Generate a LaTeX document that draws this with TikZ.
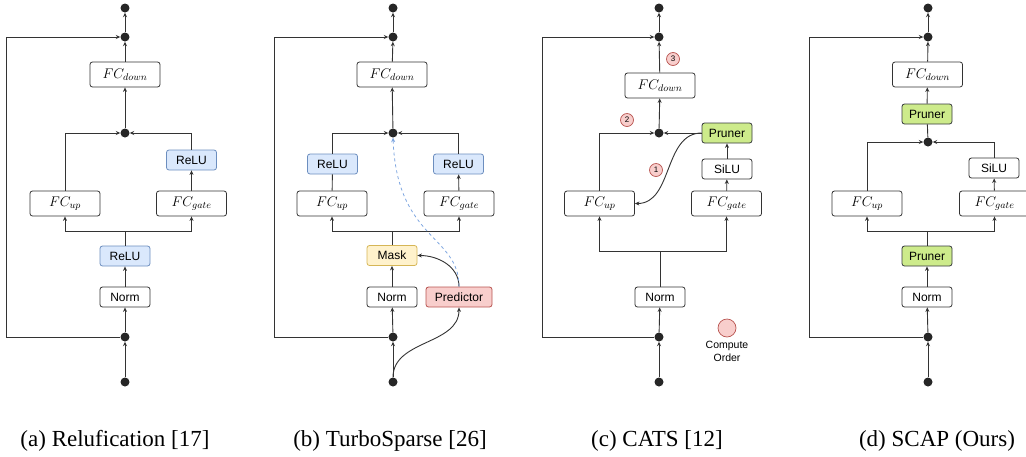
\documentclass[tikz,border=0pt]{standalone}
\usepackage{fix-cm}
\usepackage{fontspec}
\setmainfont{Liberation Serif}
\setsansfont{Liberation Sans}
\usetikzlibrary{arrows.meta}

\definecolor{linec}{HTML}{333333}
\definecolor{reluFill}{HTML}{DAE8FC}
\definecolor{reluLine}{HTML}{6C8EBF}
\definecolor{maskFill}{HTML}{FFF2CC}
\definecolor{maskLine}{HTML}{D6B656}
\definecolor{predFill}{HTML}{F8CECC}
\definecolor{predLine}{HTML}{B85450}
\definecolor{pruneFill}{HTML}{CDEB8B}
\definecolor{pruneLine}{HTML}{36393D}
\definecolor{hintc}{HTML}{7EA6E0}

\tikzset{
	blk/.style={draw=linec, line width=0.8pt, rounded corners=2.5pt, fill=white, minimum width=50pt, minimum height=20pt, inner sep=0pt, font=\sffamily\fontsize{12}{14}\selectfont},
	fcblk/.style={blk, minimum width=70pt, minimum height=25pt, font=\fontsize{14}{16}\selectfont},
	relu/.style={blk, fill=reluFill, draw=reluLine},
	maskblk/.style={blk, fill=maskFill, draw=maskLine},
	pred/.style={blk, fill=predFill, draw=predLine, minimum width=66pt},
	prune/.style={blk, fill=pruneFill, draw=pruneLine},
	dot/.style={circle, fill=black!85, inner sep=0pt, minimum size=9pt},
	ordr/.style={circle, draw=predLine, fill=predFill, line width=0.7pt, inner sep=0pt, minimum size=13pt, font=\sffamily\fontsize{8}{8}\selectfont},
	arr/.style={draw=linec, line width=0.9pt, -{Stealth[length=4.5pt,width=4pt]}},
	wire/.style={draw=linec, line width=0.9pt},
	dasharr/.style={draw=hintc, line width=0.8pt, dashed, -{Stealth[length=4.5pt,width=4pt]}},
	capt/.style={font=\fontsize{23}{25}\selectfont}
}

\begin{document}
\begin{tikzpicture}[x=1pt,y=1pt]
	\useasboundingbox (0,0) rectangle (1026,-456);

	% (a) Relufication
	\node[dot] (a-out) at (125,-8) {};
	\node[dot] (a-res) at (125,-37) {};
	\node[fcblk] (a-down) at (125,-74.5) {$FC_{down}$};
	\node[dot] (a-mul) at (125,-133) {};
	\node[relu] (a-relu2) at (191.5,-160) {ReLU};
	\node[fcblk] (a-up) at (65,-203.5) {$FC_{up}$};
	\node[fcblk] (a-gate) at (191.5,-203.5) {$FC_{gate}$};
	\coordinate (a-split) at (125,-231);
	\node[relu] (a-relu1) at (125,-256) {ReLU};
	\node[blk] (a-norm) at (125,-297) {Norm};
	\node[dot] (a-in) at (125,-337) {};
	\node[dot] (a-x) at (125,-382) {};
	\coordinate (a-loop) at (6,-337);
	\draw[arr] (a-x) -- (a-in);
	\draw[arr] (a-in) -- (a-norm);
	\draw[arr] (a-norm) -- (a-relu1);
	\draw[wire] (a-relu1) -- (a-split);
	\draw[arr] (a-split) -| (a-up);
	\draw[arr] (a-split) -| (a-gate);
	\draw[arr] (a-gate) -- (a-relu2);
	\draw[arr] (a-up) |- (a-mul);
	\draw[arr] (a-relu2) |- (a-mul);
	\draw[arr] (a-mul) -- (a-down);
	\draw[arr] (a-down) -- (a-res);
	\draw[arr] (a-res) -- (a-out);
	\draw[arr] (a-in) -- (a-loop) |- (a-res);
	\node[capt] (a-cap) at (115,-441) {(a) Relufication [17]};

	% (b) TurboSparse
	\node[dot] (b-out) at (393,-8) {};
	\node[dot] (b-res) at (393,-37) {};
	\node[fcblk] (b-down) at (392,-74.5) {$FC_{down}$};
	\node[dot] (b-mul) at (393,-133) {};
	\node[relu] (b-relu1) at (332.5,-164) {ReLU};
	\node[relu] (b-relu2) at (458.5,-164) {ReLU};
	\node[fcblk] (b-up) at (332,-203.5) {$FC_{up}$};
	\node[fcblk] (b-gate) at (459,-203.5) {$FC_{gate}$};
	\coordinate (b-split) at (392,-231);
	\node[maskblk] (b-mask) at (392,-255.5) {Mask};
	\node[blk] (b-norm) at (392,-297) {Norm};
	\node[pred] (b-pred) at (459,-297) {Predictor};
	\node[dot] (b-in) at (393,-337) {};
	\node[dot] (b-x) at (393,-382) {};
	\coordinate (b-loop) at (274,-337);
	\draw[arr] (b-x) -- (b-in);
	\draw[arr] (b-in) -- (b-norm);
	\draw[arr] (b-norm) -- (b-mask);
	\draw[wire] (b-mask) -- (b-split);
	\draw[arr] (b-split) -| (b-up);
	\draw[arr] (b-split) -| (b-gate);
	\draw[wire] (b-up) -- (b-relu1);
	\draw[arr] (b-gate) -- (b-relu2);
	\draw[arr] (b-relu1) |- (b-mul);
	\draw[arr] (b-relu2) |- (b-mul);
	\draw[arr] (b-mul) -- (b-down);
	\draw[arr] (b-down) -- (b-res);
	\draw[arr] (b-res) -- (b-out);
	\draw[arr] (b-in) -- (b-loop) |- (b-res);
	\draw[arr] (b-x) to[out=90,in=-90] (b-pred.south);
	\draw[arr] (b-pred.north) to[out=90,in=0] (b-mask.east);
	\draw[dasharr] (b-pred.north) .. controls (459,-235) and (397,-240) .. (b-mul.south);
	\node[capt] (b-cap) at (390,-441) {(b) TurboSparse [26]};

	% (c) CATS
	\node[dot] (c-out) at (659,-8) {};
	\node[dot] (c-res) at (659,-37) {};
	\node[fcblk] (c-down) at (660,-85.5) {$FC_{down}$};
	\node[dot] (c-mul) at (659,-133) {};
	\node[prune] (c-prune) at (727,-133) {Pruner};
	\node[blk] (c-silu) at (727,-169) {SiLU};
	\node[fcblk] (c-up) at (599.5,-203.5) {$FC_{up}$};
	\node[fcblk] (c-gate) at (726.5,-203.5) {$FC_{gate}$};
	\coordinate (c-split) at (660,-251);
	\node[blk] (c-norm) at (660,-297) {Norm};
	\node[dot] (c-in) at (659,-337) {};
	\node[dot] (c-x) at (659,-382) {};
	\coordinate (c-loop) at (542,-337);
	\draw[arr] (c-x) -- (c-in);
	\draw[arr] (c-in) -- (c-norm);
	\draw[wire] (c-norm) -- (c-split);
	\draw[arr] (c-split) -| (c-up);
	\draw[arr] (c-split) -| (c-gate);
	\draw[arr] (c-gate) -- (c-silu);
	\draw[arr] (c-silu) -- (c-prune);
	\draw[arr] (c-prune) -- (c-mul);
	\draw[arr] (c-up) |- (c-mul);
	\draw[arr] (c-prune.west) to[out=180,in=0] (c-up.east);
	\draw[arr] (c-mul) -- (c-down);
	\draw[arr] (c-down) -- (c-res);
	\draw[arr] (c-res) -- (c-out);
	\draw[arr] (c-in) -- (c-loop) |- (c-res);
	\node[ordr] (c-o1) at (656,-170) {1};
	\node[ordr] (c-o2) at (627,-120) {2};
	\node[ordr] (c-o3) at (673,-59) {3};
	\node[ordr, minimum size=18pt] (c-key) at (727,-328) {};
	\node[font=\sffamily\fontsize{10.5}{13}\selectfont, align=center, anchor=north] (c-keytxt) at (c-key.south) {Compute\\Order};
	\node[capt] (c-cap) at (657,-441) {(c) CATS [12]};

	% (d) SCAP (Ours)
	\node[dot] (d-out) at (928,-8) {};
	\node[dot] (d-res) at (928,-37) {};
	\node[fcblk] (d-down) at (927.5,-74.5) {$FC_{down}$};
	\node[prune] (d-prune2) at (927,-114) {Pruner};
	\node[dot] (d-mul) at (928,-142) {};
	\node[blk] (d-silu) at (994,-168) {SiLU};
	\node[fcblk] (d-up) at (867,-203.5) {$FC_{up}$};
	\node[fcblk] (d-gate) at (994.5,-203.5) {$FC_{gate}$};
	\coordinate (d-split) at (927,-231);
	\node[prune] (d-prune1) at (927,-256) {Pruner};
	\node[blk] (d-norm) at (927,-297) {Norm};
	\node[dot] (d-in) at (928,-337) {};
	\node[dot] (d-x) at (928,-382) {};
	\coordinate (d-loop) at (809,-337);
	\draw[arr] (d-x) -- (d-in);
	\draw[arr] (d-in) -- (d-norm);
	\draw[arr] (d-norm) -- (d-prune1);
	\draw[wire] (d-prune1) -- (d-split);
	\draw[arr] (d-split) -| (d-up);
	\draw[arr] (d-split) -| (d-gate);
	\draw[arr] (d-gate) -- (d-silu);
	\draw[arr] (d-up) |- (d-mul);
	\draw[arr] (d-silu) |- (d-mul);
	\draw[wire] (d-mul) -- (d-prune2);
	\draw[arr] (d-prune2) -- (d-down);
	\draw[arr] (d-down) -- (d-res);
	\draw[arr] (d-res) -- (d-out);
	\draw[arr] (d-in) -- (d-loop) |- (d-res);
	\node[capt] (d-cap) at (937,-441) {(d) SCAP (Ours)};
\end{tikzpicture}
\end{document}
